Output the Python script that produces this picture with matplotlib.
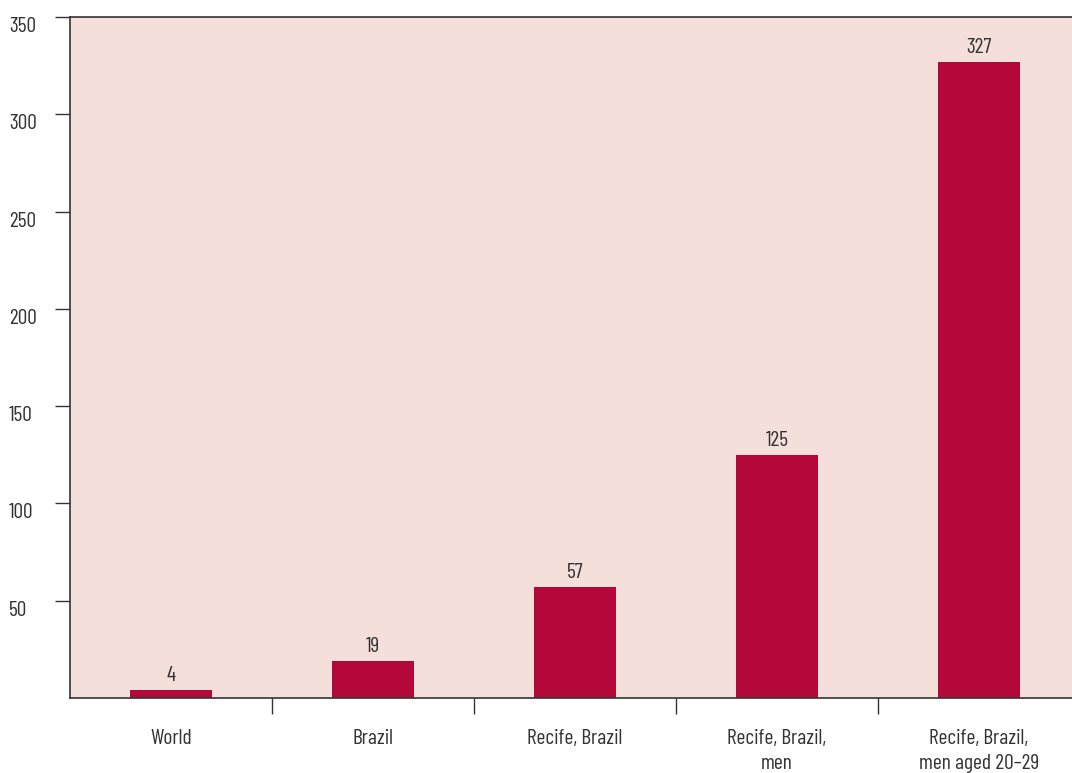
import matplotlib
matplotlib.use("Agg")
import matplotlib.pyplot as plt

categories = ["World", "Brazil", "Recife, Brazil", "Recife, Brazil,\nmen", "Recife, Brazil,\nmen aged 20\u201329"]
values = [4, 19, 57, 125, 327]
yticks = [50, 100, 150, 200, 250, 300, 350]

plt.rcParams["font.family"] = ["Barlow Condensed", "Liberation Sans Narrow", "DejaVu Sans"]

text_col = "#333333"
bar_col = "#B5083A"
bg_col = "#F5DFDA"
fs = 15.5

W, H = 1072, 773
fig = plt.figure(figsize=(W / 100, H / 100), dpi=100)
left, right, bottom, top = 70, 1080, 698, 17
ax = fig.add_axes([left / W, 1 - bottom / H, (right - left) / W, (bottom - top) / H])
ax.set_facecolor(bg_col)

x = range(len(categories))
ax.bar(x, values, width=0.41, color=bar_col, zorder=2)
for i, v in zip(x, values):
    ax.text(i, v + 2.5, str(v), ha="center", va="bottom", fontsize=fs, color=text_col)

ax.set_xlim(-0.5, len(categories) - 0.5)
ax.set_ylim(0, 350)

ax.set_xticks(list(x))
ax.set_xticklabels(categories, fontsize=fs, color=text_col, linespacing=1.45)
ax.set_xticks([i + 0.5 for i in range(len(categories) - 1)], minor=True)
ax.tick_params(axis="x", which="major", length=0, pad=22)
ax.tick_params(axis="x", which="minor", length=11.5, width=1, color="#333333", direction="out")

ax.set_yticks(yticks)
ax.set_yticklabels([str(t) for t in yticks], fontsize=fs, color=text_col)
ax.tick_params(axis="y", length=11, width=1, color="#333333", direction="out", pad=33)
for lab in ax.get_yticklabels():
    lab.set_horizontalalignment("left")
    lab.set_verticalalignment("top")

for s in ["left", "top", "bottom"]:
    ax.spines[s].set_color("#333333")
    ax.spines[s].set_linewidth(1.2)
ax.spines["right"].set_visible(False)

fig.savefig("out.png", dpi=100)
